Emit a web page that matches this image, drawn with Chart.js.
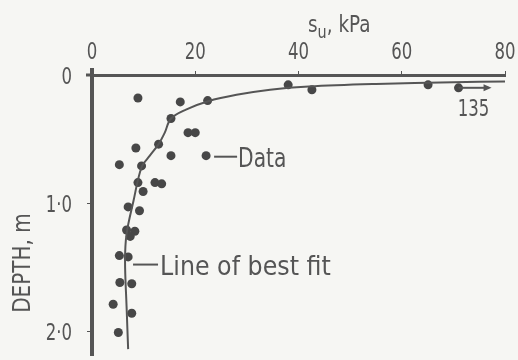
<!DOCTYPE html>
<html>
<head>
<meta charset="utf-8">
<script src="https://cdn.jsdelivr.net/npm/chart.js@4"></script>
<style>
  html, body { margin: 0; padding: 0; background: #f6f6f3; }
  canvas { display: block; }
</style>
</head>
<body>
<canvas id="chartSu" width="518" height="360"></canvas>
<script>
// measured points: undrained strength (kPa) vs depth (m)
const dataSu    = [8.9, 17.1, 22.4, 15.3, 18.6, 20.0, 8.5, 12.9, 15.3, 22.1, 5.3, 9.6, 8.9, 12.2, 13.5, 9.9, 7.0, 9.2, 6.7, 8.3, 7.4, 5.3, 7.0, 5.4, 7.7, 4.1, 7.7, 5.1, 38.0, 42.6, 65.1];
const dataDepth = [0.18, 0.21, 0.20, 0.34, 0.45, 0.45, 0.57, 0.54, 0.63, 0.63, 0.70, 0.71, 0.84, 0.84, 0.85, 0.91, 1.03, 1.06, 1.21, 1.22, 1.26, 1.41, 1.42, 1.62, 1.63, 1.79, 1.86, 2.01, 0.077, 0.115, 0.077];

// line of best fit
const fitSu    = [80, 70, 55, 42, 34.5, 28, 22.5, 18.2, 15.3, 14.1, 12.9, 11.2, 9.6, 8.0, 6.7, 6.4, 6.7, 7.0];
const fitDepth = [0.05, 0.056, 0.07, 0.09, 0.115, 0.155, 0.205, 0.27, 0.34, 0.45, 0.54, 0.63, 0.72, 0.99, 1.24, 1.45, 1.81, 2.14];

// off-scale value, plotted at the right edge with an arrow
const offValue = [135];
const offShownAt = [71];
const offDepth = [0.10];

const xTicks = [0, 20, 40, 60, 80];
const yTicks = [0, 1, 2];

const ink = '#555';

const pts = dataSu.map((v, i) => ({ x: v, y: dataDepth[i] }));
const offPts = offShownAt.map((v, i) => ({ x: v, y: offDepth[i] }));
const fitPts = fitSu.map((v, i) => ({ x: v, y: fitDepth[i] }));

// the print uses a narrow lettering, so squeeze DejaVu sideways
function narrowText(c, text, x, y, size, sx, align) {
  c.save();
  c.font = size + 'px "DejaVu Sans"';
  c.translate(x, y);
  c.scale(sx, 1);
  c.textAlign = align || 'left';
  c.fillText(text, 0, 0);
  c.restore();
}

function yLabel(v) {
  return v === 0 ? '0' : v.toFixed(1).replace('.', '\u00b7');
}

// labels, titles, call-outs
const notes = {
  id: 'notes',
  afterDraw(chart) {
    const c = chart.ctx;
    const xs = chart.scales.x, ys = chart.scales.y;
    c.save();
    c.fillStyle = ink;
    c.strokeStyle = ink;
    c.lineWidth = 2;
    c.textBaseline = 'alphabetic';

    // little overshoot where the two axes cross
    c.fillRect(xs.left - 2, ys.top - 7, 4, 7);
    c.fillRect(xs.left - 6, ys.top - 1.5, 6, 3);

    // tick labels
    xTicks.forEach(v => narrowText(c, String(v), xs.getPixelForValue(v), 59, 23, 0.72, 'center'));
    yTicks.forEach(v => narrowText(c, yLabel(v), 72, ys.getPixelForValue(v) + 9, 23, 0.72, 'right'));

    // x title: s_u, kPa
    let tx = 308;
    narrowText(c, 's', tx, 32, 23, 0.8);
    c.font = '23px "DejaVu Sans"';
    tx += c.measureText('s').width * 0.8;
    narrowText(c, 'u', tx, 38, 18, 0.8);
    c.font = '18px "DejaVu Sans"';
    tx += c.measureText('u').width * 0.8;
    narrowText(c, ', kPa', tx, 32, 23, 0.8);

    // y title
    c.save();
    c.translate(30, 263);
    c.rotate(-Math.PI / 2);
    narrowText(c, 'DEPTH, m', 0, 0, 25, 0.8, 'center');
    c.restore();

    // "Data" call-out
    const dx = xs.getPixelForValue(dataSu[9]), dy = ys.getPixelForValue(dataDepth[9]);
    c.beginPath();
    c.moveTo(dx + 8, dy + 1);
    c.lineTo(dx + 31, dy + 1);
    c.stroke();
    narrowText(c, 'Data', dx + 32, dy + 11, 27, 0.75);

    // "Line of best fit" call-out
    const lx = xs.getPixelForValue(fitSu[15]), ly = ys.getPixelForValue(1.48);
    c.beginPath();
    c.moveTo(lx + 8, ly);
    c.lineTo(lx + 33, ly);
    c.stroke();
    narrowText(c, 'Line of best fit', lx + 35, ly + 10, 27, 0.88);

    // off-scale arrow and value
    const ax = xs.getPixelForValue(offShownAt[0]), ay = ys.getPixelForValue(offDepth[0]);
    c.beginPath();
    c.moveTo(ax, ay);
    c.lineTo(ax + 30, ay);
    c.stroke();
    c.beginPath();
    c.moveTo(ax + 33, ay);
    c.lineTo(ax + 25, ay - 3.5);
    c.lineTo(ax + 25, ay + 3.5);
    c.closePath();
    c.fill();
    narrowText(c, String(offValue[0]), ax + 15, ay + 28, 23, 0.72, 'center');
    c.restore();
  }
};

new Chart(document.getElementById('chartSu'), {
  type: 'scatter',
  data: {
    datasets: [
      {
        label: 'Line of best fit',
        data: fitPts,
        showLine: true,
        borderColor: ink,
        borderWidth: 2,
        pointRadius: 0,
        tension: 0.35,
        fill: false
      },
      {
        label: 'Data',
        data: pts,
        backgroundColor: '#474747',
        borderWidth: 0,
        pointRadius: 4.5
      },
      {
        label: 'Off scale',
        data: offPts,
        backgroundColor: '#474747',
        borderWidth: 0,
        pointRadius: 4.5
      }
    ]
  },
  options: {
    responsive: false,
    animation: false,
    layout: { padding: { left: 0, right: 13, top: 0, bottom: 0 } },
    plugins: {
      legend: { display: false },
      tooltip: { enabled: false }
    },
    scales: {
      x: {
        type: 'linear',
        position: 'top',
        min: 0,
        max: 80,
        afterFit: s => { s.height = 75; s.paddingLeft = 0; s.paddingRight = 0; },
        afterBuildTicks: s => { s.ticks = xTicks.map(v => ({ value: v })); },
        ticks: { display: false },
        grid: { drawOnChartArea: false, drawTicks: true, tickLength: 4, color: ink, lineWidth: 1 },
        border: { color: ink, width: 3 }
      },
      y: {
        type: 'linear',
        reverse: true,
        min: 0,
        max: 2.19,
        afterFit: s => { s.width = 92; s.paddingTop = 0; s.paddingBottom = 0; },
        afterBuildTicks: s => { s.ticks = yTicks.map(v => ({ value: v })); },
        ticks: { display: false },
        grid: { drawOnChartArea: false, drawTicks: true, tickLength: 5, color: ink, lineWidth: 1 },
        border: { color: ink, width: 4 }
      }
    }
  },
  plugins: [notes]
});
</script>
</body>
</html>
